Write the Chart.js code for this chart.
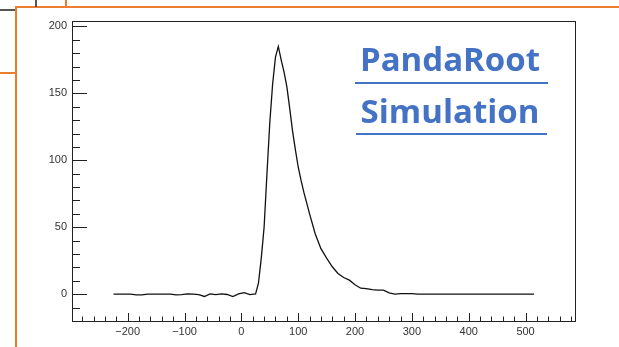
<!DOCTYPE html>
<html>
<head>
<meta charset="utf-8">
<script src="https://cdn.jsdelivr.net/npm/chart.js@4"></script>
<style>
  body { margin: 0; background: #fff; }
  #wrap { position: relative; width: 619px; height: 347px; overflow: hidden; }
  canvas { position: absolute; left: 0; top: 0; }
  .ln { position: absolute; }
  .orange { background: #ED7D31; }
  .dark { background: #555; }
  .title { position: absolute; left: 300px; width: 300px; text-align: center;
    font-family: 'Open Sans', sans-serif; font-weight: bold; font-size: 33px;
    line-height: 33px; color: #4472C4; white-space: nowrap; }
  .uline { position: absolute; height: 2px; background: #4472C4; }
</style>
</head>
<body>
<div id="wrap">
  <canvas id="myChart" width="619" height="347"></canvas>
  <!-- slide decoration lines -->
  <div class="ln orange" style="left:15px; top:6px; width:604px; height:2px;"></div>
  <div class="ln orange" style="left:15px; top:6px; width:2px; height:341px;"></div>
  <div class="ln orange" style="left:0; top:72px; width:16px; height:2px;"></div>
  <div class="ln orange" style="left:65px; top:0; width:1.5px; height:7px;"></div>
  <div class="ln dark" style="left:35px; top:0; width:1.5px; height:7px;"></div>
  <div class="ln dark" style="left:0; top:9px; width:15px; height:1.5px;"></div>

  <div class="title" style="top:42px;">PandaRoot</div>
  <div class="uline" style="left:355px; top:82px; width:193px;"></div>
  <div class="title" style="top:94px;">Simulation</div>
  <div class="uline" style="left:356px; top:133px; width:191px;"></div>
</div>
<script>
var ctx = document.getElementById('myChart').getContext('2d');

var xValues = [-225, -215, -205, -195, -185, -175, -165, -155, -145, -135, -125,
  -115, -105, -95, -85, -75, -65, -55, -45, -35, -25, -15, -5, 5, 15, 25,
  30, 35, 40, 45, 50, 55, 60, 65, 70, 75, 80, 85, 90, 95, 100, 105, 110, 115, 120,
  130, 140, 150, 160, 170, 180, 190, 200, 210, 220, 230, 240, 250, 260, 270,
  280, 290, 300, 310, 515];
var counts = [0, 0, 0, 0, -0.5, -0.5, 0, 0, 0, 0, 0,
  -0.5, -0.3, 0.3, 0, -0.3, -1.7, 0.2, -0.3, 0.3, -0.2, -1.7, 0.3, 1.2, -0.3, 0.2,
  8, 27, 50, 90, 128, 157, 177, 185, 175, 166, 155, 139, 122, 108, 95, 85, 76, 68, 60,
  45, 34, 27, 20.5, 15.5, 12.5, 10.5, 7, 4.5, 4.2, 3.5, 3, 3, 1, 0,
  0.5, 0.5, 0.5, 0, 0];

var xTicks = [-200, -100, 0, 100, 200, 300, 400, 500];
var yTicks = [0, 50, 100, 150, 200];

var points = xValues.map(function(x, i) {
  return { x: x, y: counts[i] };
});

var fontTicks = { family: 'Liberation Sans', size: 11 };

// ROOT style inward ticks and frame box
var rootFrame = {
  id: 'rootFrame',
  afterDraw: function(chart) {
    var c = chart.ctx, a = chart.chartArea;
    var xs = chart.scales.x, ys = chart.scales.y;
    c.save();
    c.strokeStyle = '#222';
    c.lineWidth = 1;
    c.strokeRect(a.left + 0.5, a.top + 0.5, a.right - a.left, a.bottom - a.top);
    c.beginPath();
    for (var v = -280; v <= 580; v += 20) {
      var px = Math.round(xs.getPixelForValue(v)) + 0.5;
      var len = (v % 100 === 0) ? 8 : 4.5;
      c.moveTo(px, a.bottom);
      c.lineTo(px, a.bottom - len);
    }
    for (var w = -10; w <= 200; w += 10) {
      var py = Math.round(ys.getPixelForValue(w)) + 0.5;
      var l2 = (w % 50 === 0) ? 15 : 8;
      c.moveTo(a.left, py);
      c.lineTo(a.left + l2, py);
    }
    c.stroke();
    c.restore();
  }
};

new Chart(ctx, {
  type: 'line',
  data: {
    datasets: [{
      data: points,
      borderColor: '#111',
      borderWidth: 1.3,
      pointRadius: 0,
      tension: 0,
      fill: false
    }]
  },
  options: {
    responsive: false,
    animation: false,
    layout: { padding: { top: 21, right: 44, left: 0, bottom: 0 } },
    plugins: { legend: { display: false }, tooltip: { enabled: false } },
    scales: {
      x: {
        type: 'linear',
        min: -298,
        max: 587,
        grid: { display: false, drawTicks: false },
        border: { display: false },
        afterBuildTicks: function(scale) {
          scale.ticks = xTicks.map(function(v) { return { value: v }; });
        },
        afterFit: function(scale) { scale.height = 26; },
        ticks: {
          padding: 4,
          color: '#333',
          font: fontTicks,
          maxRotation: 0,
          autoSkip: false,
          callback: function(v) {
            return v < 0 ? '\u2212' + Math.abs(v) : String(v);
          }
        }
      },
      y: {
        min: -20,
        max: 204,
        grid: { display: false, drawTicks: false },
        border: { display: false },
        afterBuildTicks: function(scale) {
          scale.ticks = yTicks.map(function(v) { return { value: v }; });
        },
        afterFit: function(scale) { scale.width = 72; },
        ticks: {
          padding: 5,
          color: '#333',
          font: fontTicks,
          autoSkip: false
        }
      }
    }
  },
  plugins: [rootFrame]
});
</script>
</body>
</html>
